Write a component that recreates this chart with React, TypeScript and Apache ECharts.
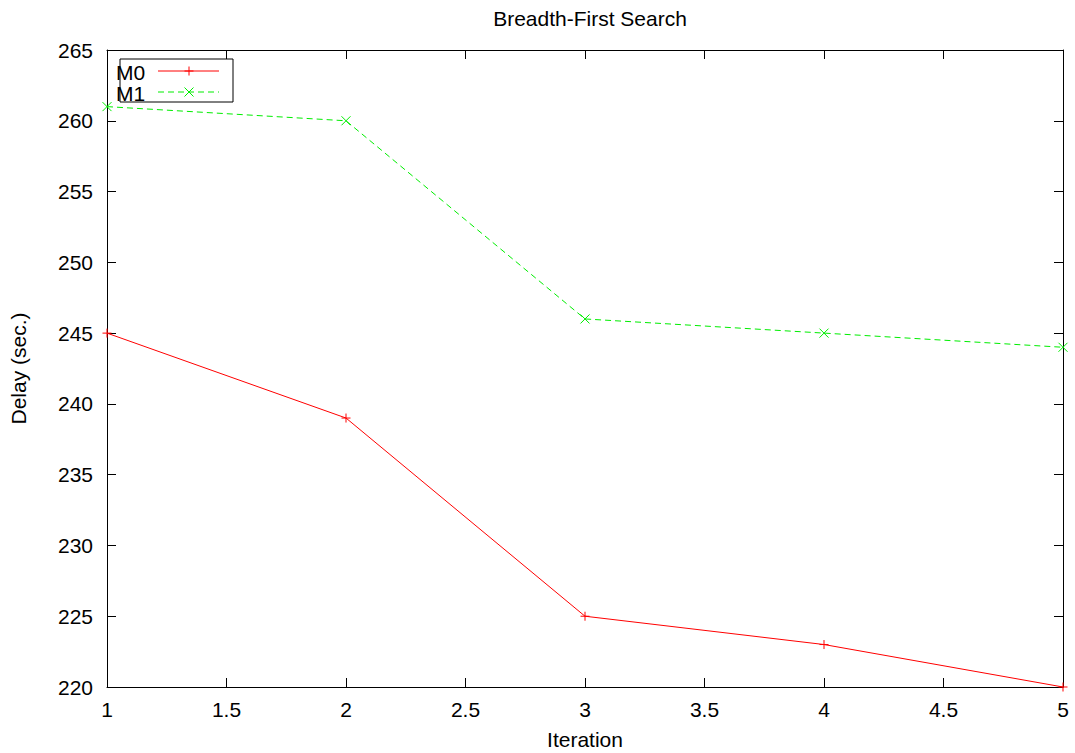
import React, { useEffect, useRef } from "react";
import * as echarts from "echarts";

const iterations = [1, 2, 3, 4, 5];
const m0Values = [245, 239, 225, 223, 220];
const m1Values = [261, 260, 246, 245, 244];
const seriesNames = ["M0", "M1"];
const title = "Breadth-First Search";
const xName = "Iteration";
const yName = "Delay (sec.)";

const RED = "#ff0000";
const GREEN = "#00ee00";
const FONT = "'Liberation Sans', Arial, Helvetica, sans-serif";

const PLUS = "path://M5,0L5,10M0,5L10,5";
const CROSS = "path://M0,0L10,10M10,0L0,10";

export default function App() {
  const ref = useRef<HTMLDivElement>(null);
  useEffect(() => {
    if (!ref.current) return;
    const chart = echarts.init(ref.current, undefined, { renderer: "svg" });
    const axisCommon = {
      axisLine: { show: true, lineStyle: { color: "#000", width: 1 } },
      axisTick: { show: true, inside: true, length: 9, lineStyle: { color: "#000", width: 1 } },
      splitLine: { show: false },
    };
    const labelStyle = { color: "#000", fontSize: 21, fontFamily: FONT };
    chart.setOption({
      animation: false,
      backgroundColor: "#fff",
      title: {
        text: title,
        left: 585,
        textAlign: "center",
        top: 3,
        textStyle: { color: "#000", fontSize: 21, fontWeight: "normal", fontFamily: FONT },
      },
      grid: { left: 107, right: 12, top: 50, bottom: 66, containLabel: false, outerBoundsMode: "none" },
      xAxis: [
        {
          type: "value",
          min: 1,
          max: 5,
          interval: 0.5,
          position: "bottom",
          name: xName,
          nameLocation: "middle",
          nameGap: 42,
          nameTextStyle: labelStyle,
          axisLabel: { ...labelStyle, margin: 12 },
          ...axisCommon,
        },
        {
          type: "value",
          min: 1,
          max: 5,
          interval: 0.5,
          position: "top",
          axisLabel: { show: false },
          ...axisCommon,
        },
      ],
      yAxis: [
        {
          type: "value",
          min: 220,
          max: 265,
          interval: 5,
          position: "left",
          name: yName,
          nameLocation: "middle",
          nameRotate: 90,
          nameGap: 78,
          nameTextStyle: labelStyle,
          axisLabel: { ...labelStyle, margin: 14 },
          ...axisCommon,
        },
        {
          type: "value",
          min: 220,
          max: 265,
          interval: 5,
          position: "right",
          axisLabel: { show: false },
          ...axisCommon,
        },
      ],
      series: [
        {
          name: seriesNames[0],
          type: "line",
          data: iterations.map((x, i) => [x, m0Values[i]]),
          symbol: PLUS,
          symbolSize: 9,
          showAllSymbol: true,
          clip: false,
          lineStyle: { color: RED, width: 1, type: "solid" },
          itemStyle: { color: RED, borderColor: RED, borderWidth: 1 },
        },
        {
          name: seriesNames[1],
          type: "line",
          data: iterations.map((x, i) => [x, m1Values[i]]),
          symbol: CROSS,
          symbolSize: 9,
          showAllSymbol: true,
          clip: false,
          lineStyle: { color: GREEN, width: 1, type: [6, 4] },
          itemStyle: { color: GREEN, borderColor: GREEN, borderWidth: 1 },
        },
      ],
      graphic: [
        {
          type: "rect",
          shape: { x: 120, y: 59, width: 113, height: 43 },
          style: { fill: "none", stroke: "#000", lineWidth: 1 },
          z: 10,
        },
        {
          type: "text",
          x: 116,
          y: 72,
          style: { text: seriesNames[0], fill: "#000", fontSize: 21, fontFamily: FONT, verticalAlign: "middle" },
          z: 10,
        },
        {
          type: "text",
          x: 116,
          y: 93,
          style: { text: seriesNames[1], fill: "#000", fontSize: 21, fontFamily: FONT, verticalAlign: "middle" },
          z: 10,
        },
        { type: "line", shape: { x1: 158, y1: 71, x2: 219, y2: 71 }, style: { stroke: RED, lineWidth: 1 }, z: 10 },
        { type: "line", shape: { x1: 189, y1: 66.5, x2: 189, y2: 75.5 }, style: { stroke: RED, lineWidth: 1 }, z: 10 },
        { type: "line", shape: { x1: 184.5, y1: 71, x2: 193.5, y2: 71 }, style: { stroke: RED, lineWidth: 1 }, z: 10 },
        { type: "line", shape: { x1: 158, y1: 92, x2: 219, y2: 92 }, style: { stroke: GREEN, lineWidth: 1, lineDash: [6, 4] }, z: 10 },
        { type: "line", shape: { x1: 184.5, y1: 87.5, x2: 193.5, y2: 96.5 }, style: { stroke: GREEN, lineWidth: 1 }, z: 10 },
        { type: "line", shape: { x1: 193.5, y1: 87.5, x2: 184.5, y2: 96.5 }, style: { stroke: GREEN, lineWidth: 1 }, z: 10 },
      ],
    });
    return () => chart.dispose();
  }, []);
  return (
    <div
      ref={ref}
      style={{ position: "fixed", left: 0, top: 0, width: 1075, height: 753, background: "#fff" }}
    />
  );
}
